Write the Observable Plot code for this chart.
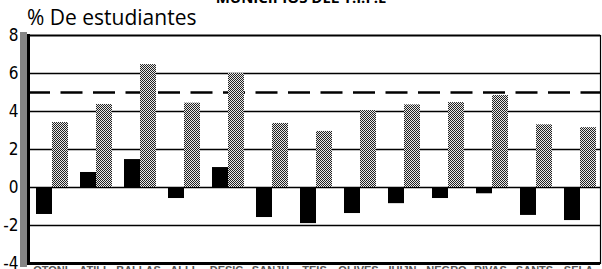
<!DOCTYPE html>
<html><head><meta charset="utf-8">
<script src="https://cdn.jsdelivr.net/npm/d3@7"></script>
<script src="https://cdn.jsdelivr.net/npm/@observablehq/plot@0.6"></script>
<style>
body{margin:0;background:#fff;overflow:hidden}
#wrap{position:relative;width:602px;height:269px;overflow:hidden;background:#fff}
#chart{position:absolute;left:0;top:0}
#title{position:absolute;left:0;width:602px;text-align:center;top:-13px;font:bold 15px "Open Sans",sans-serif;color:#000;white-space:nowrap}
#ylab{position:absolute;left:27px;top:3px;font:21px "Open Sans",sans-serif;color:#000;white-space:nowrap}
</style></head><body>
<div id="wrap"><div id="chart"></div><div id="title">MUNICIPIOS DEL T.I.F.E</div><div id="ylab">% De estudiantes</div></div>
<script>
// Data
const municipios = ["OTONI", "ATILL", "BALLAS", "ALLI", "DESIC", "SANJU", "TEIS", "OLIVES", "IUIJN", "NEGRO", "RIVAS", "SANTS", "SELA"];
const serieNegra = [-1.42, 0.79, 1.47, -0.58, 1.05, -1.58, -1.9, -1.37, -0.85, -0.58, -0.33, -1.47, -1.74];
const serieGris = [3.42, 4.37, 6.47, 4.44, 6.0, 3.37, 2.95, 4.05, 4.35, 4.47, 4.84, 3.3, 3.15];
const yTicks = [-4, -2, 0, 2, 4, 6, 8];
const gridValues = [-2, 0, 2, 4, 6];
const referencia = [5];
const yDomain = [-4, 8];

const negra = municipios.map((m, i) => ({municipio: m, valor: serieNegra[i]}));
const gris = municipios.map((m, i) => ({municipio: m, valor: serieGris[i]}));

const chart = Plot.plot({
  width: 602,
  height: 300,
  marginLeft: 28,
  marginRight: 2,
  marginTop: 35,
  marginBottom: 37,
  style: {background: "#fff", color: "#000"},
  x: {domain: municipios, padding: 0, axis: null},
  y: {domain: yDomain, axis: null},
  marks: [
    Plot.ruleY(gridValues, {stroke: "#000", strokeWidth: 1.3}),
    Plot.ruleY(referencia, {stroke: "#000", strokeWidth: 2.5, strokeDasharray: "22,10.5"}),
    Plot.barY(negra, {x: "municipio", y: "valor", fill: "#000", insetLeft: 8, insetRight: 20}),
    Plot.barY(gris, {x: "municipio", y: "valor", fill: "url(#stipple)", insetLeft: 24, insetRight: 4}),
    Plot.ruleY([yDomain[1]], {stroke: "#000", strokeWidth: 2.2}),
    Plot.ruleY([yDomain[0]], {stroke: "#000", strokeWidth: 3}),
    Plot.frame({anchor: "right", stroke: "#000", strokeWidth: 1.2}),
    Plot.frame({anchor: "left", stroke: "url(#stipple)", strokeWidth: 7, dx: -5}),
    Plot.frame({anchor: "left", stroke: "#000", strokeWidth: 3}),
    Plot.axisY({ticks: yTicks, tickFormat: d => String(d), tickSize: 0, tickPadding: 10, label: null, fontSize: 17, fontFamily: "'Liberation Sans Narrow', 'DejaVu Sans Condensed', sans-serif", fill: "#000"}),
    Plot.axisX({tickSize: 0, tickPadding: 3, label: null, fontSize: 11, fontWeight: "bold", fontFamily: "'Liberation Sans Narrow', sans-serif", fill: "#555"})
  ]
});

const svg = d3.select(chart);
const defs = svg.insert("defs", ":first-child");
const p = defs.append("pattern").attr("id", "stipple").attr("width", 2).attr("height", 2).attr("patternUnits", "userSpaceOnUse");
p.append("rect").attr("width", 2).attr("height", 2).attr("fill", "#e8e8e8");
p.append("rect").attr("width", 1).attr("height", 1).attr("fill", "#222");
p.append("rect").attr("x", 1).attr("y", 1).attr("width", 1).attr("height", 1).attr("fill", "#222");

document.getElementById("chart").appendChild(chart);
</script>
</body></html>
